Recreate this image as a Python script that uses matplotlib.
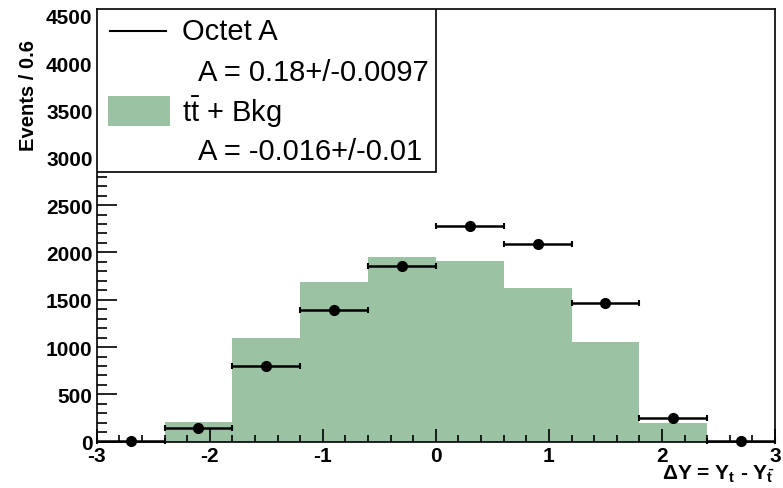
import matplotlib
matplotlib.use('Agg')
import matplotlib.pyplot as plt
from matplotlib.patches import Rectangle
from matplotlib.ticker import MultipleLocator

plt.rcParams['font.family'] = ['Liberation Sans', 'DejaVu Sans']
plt.rcParams['mathtext.fontset'] = 'custom'
plt.rcParams['mathtext.rm'] = 'Liberation Sans'
plt.rcParams['mathtext.bf'] = 'Liberation Sans:bold'
plt.rcParams['mathtext.it'] = 'Liberation Sans:italic'
plt.rcParams['axes.unicode_minus'] = False

# binning in delta Y
bin_edges = [-3.0, -2.4, -1.8, -1.2, -0.6, 0.0, 0.6, 1.2, 1.8, 2.4, 3.0]
bin_centers = [-2.7, -2.1, -1.5, -0.9, -0.3, 0.3, 0.9, 1.5, 2.1, 2.7]

# ttbar + background (filled histogram)
sm_counts = [8, 204, 1099, 1683, 1951, 1908, 1627, 1056, 194, 6]
# octet A (points)
octet_counts = [3, 148, 796, 1387, 1859, 2282, 2088, 1465, 254, 10]

legend_labels = ['Octet A', 'A = 0.18+/-0.0097', r'$\mathrm{t\bar{t}}$ + Bkg', 'A = -0.016+/-0.01']

green = '#9ac2a3'

fig = plt.figure(figsize=(7.83, 4.89), dpi=100)
ax = fig.add_axes([96.7 / 783, 1 - 442.7 / 489, (775 - 96.7) / 783, (442.7 - 10) / 489])

ax.stairs(sm_counts, bin_edges, fill=True, color=green, linewidth=0, zorder=1)
ax.errorbar(bin_centers, octet_counts, xerr=0.3, fmt='o', color='black', ms=7,
            elinewidth=1.8, capsize=2.5, capthick=1.5, zorder=3, clip_on=False)

ax.set_xlim(-3, 3)
ax.set_ylim(0, 4571)

ax.xaxis.set_major_locator(MultipleLocator(1))
ax.xaxis.set_minor_locator(MultipleLocator(0.2))
ax.yaxis.set_major_locator(MultipleLocator(500))
ax.yaxis.set_minor_locator(MultipleLocator(100))
ax.tick_params(axis='both', which='both', direction='in', top=False, right=False, width=1.2)
ax.tick_params(axis='y', which='major', length=14.4)
ax.tick_params(axis='y', which='minor', length=7.2)
ax.tick_params(axis='x', which='major', length=9.4)
ax.tick_params(axis='x', which='minor', length=4.7)
ax.tick_params(axis='both', labelsize=15)
ax.tick_params(axis='y', pad=3)
ax.tick_params(axis='x', pad=3)
for lab in ax.get_xticklabels() + ax.get_yticklabels():
    lab.set_fontweight('bold')
for s in ax.spines.values():
    s.set_linewidth(1.2)

fig.text(28 / 783, 1 - 40 / 489, 'Events / 0.6', rotation=90, ha='center', va='top',
         fontsize=14.5, fontweight='bold')
fig.text(775 / 783, 1 - 474 / 489, r'ΔY = Y$_{\mathbf{t}}$ - Y$_{\mathbf{\bar{t}}}$',
         ha='right', va='center', fontsize=15, fontweight='bold')

# legend box drawn by hand, on top of the axis ticks
ax.add_patch(Rectangle((0, 0.6233), 0.5002, 1 - 0.6233, transform=ax.transAxes,
                       facecolor='white', edgecolor='black', linewidth=1.2, zorder=5))
ax.plot([0.0196, 0.102], [0.949, 0.949], transform=ax.transAxes, color='black', lw=1.5, zorder=6)
ax.add_patch(Rectangle((0.0167, 0.729), 0.0913, 0.07, transform=ax.transAxes,
                       facecolor=green, edgecolor='none', zorder=6))
ax.text(0.126, 0.949, legend_labels[0], transform=ax.transAxes, va='center', fontsize=21, zorder=7)
ax.text(0.1497, 0.854, legend_labels[1], transform=ax.transAxes, va='center', fontsize=21, zorder=7)
ax.text(0.126, 0.764, legend_labels[2], transform=ax.transAxes, va='center', fontsize=21, zorder=7)
ax.text(0.1497, 0.6713, legend_labels[3], transform=ax.transAxes, va='center', fontsize=21, zorder=7)

fig.savefig('out.png', dpi=100)
